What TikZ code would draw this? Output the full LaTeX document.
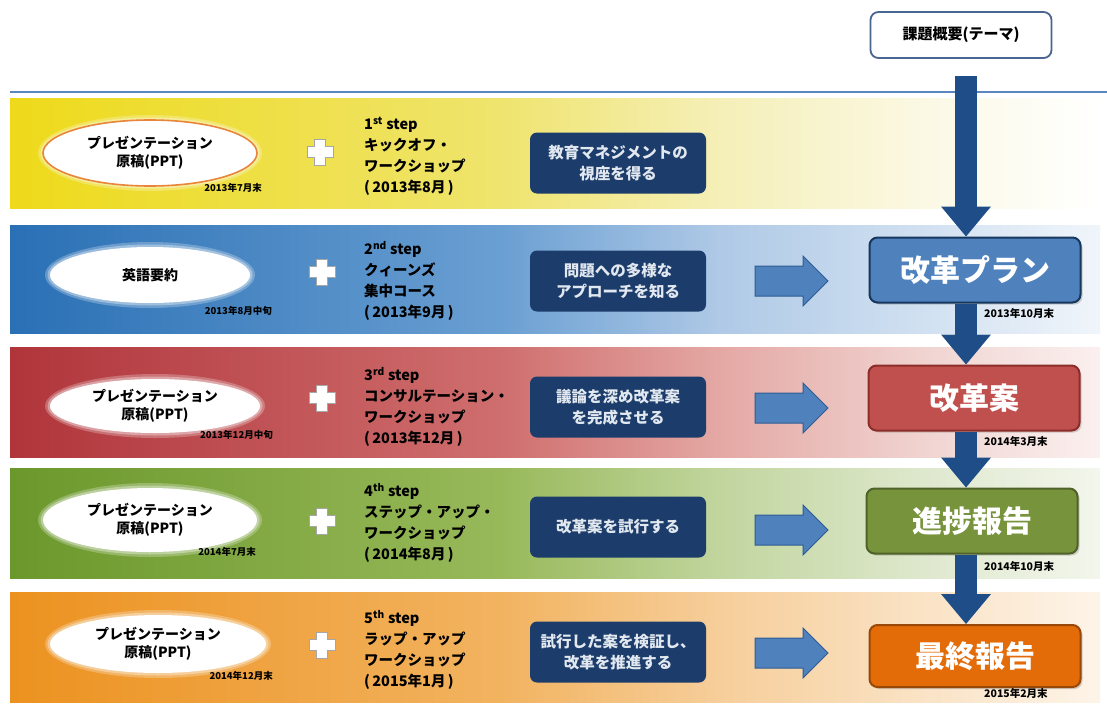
\documentclass[tikz,border=0pt]{standalone}
\usepackage{fontspec}
\setmainfont{Noto Sans CJK JP}
\usetikzlibrary{shapes.geometric,arrows.meta,shadows}
\definecolor{navy}{HTML}{1C3D6B}
\definecolor{navytext}{HTML}{E2E8F0}
\definecolor{varr}{HTML}{1F4D87}
\definecolor{harrfill}{HTML}{4F81BD}
\definecolor{harrdraw}{HTML}{2F5C92}
\definecolor{themeline}{HTML}{4A6590}
\definecolor{hline}{HTML}{5B86C0}
\definecolor{rbBlue}{HTML}{4F81BD}\definecolor{rbBlueD}{HTML}{17375E}
\definecolor{rbRed}{HTML}{C0504D}\definecolor{rbRedD}{HTML}{8C2D2A}
\definecolor{rbGreen}{HTML}{77933C}\definecolor{rbGreenD}{HTML}{4F6228}
\definecolor{rbOrange}{HTML}{E36C09}\definecolor{rbOrangeD}{HTML}{984807}
\definecolor{ellOrange}{HTML}{E8853A}
% row shadings (path spans 25bp..75bp of the shading)
\definecolor{yA}{HTML}{EEDA1A}\definecolor{yB}{HTML}{EFE46E}\definecolor{yC}{HTML}{F5EFB8}\definecolor{yD}{HTML}{FBF9E6}\definecolor{yE}{HTML}{FFFFFF}
\definecolor{bA}{HTML}{2A70B5}\definecolor{bB}{HTML}{6A9FD2}\definecolor{bC}{HTML}{AFC9E6}\definecolor{bD}{HTML}{D3E2F2}\definecolor{bE}{HTML}{F0F5FA}
\definecolor{rA}{HTML}{B0353B}\definecolor{rB}{HTML}{CF6E6E}\definecolor{rC}{HTML}{E4A8A4}\definecolor{rD}{HTML}{F1D6D3}\definecolor{rE}{HTML}{FAF0EF}
\definecolor{gA}{HTML}{6B982C}\definecolor{gB}{HTML}{98B95A}\definecolor{gC}{HTML}{C1D59E}\definecolor{gD}{HTML}{E0E9D0}\definecolor{gE}{HTML}{F3F6EC}
\definecolor{oA}{HTML}{EC9220}\definecolor{oB}{HTML}{F2B360}\definecolor{oC}{HTML}{F6CE9A}\definecolor{oD}{HTML}{FAE4C8}\definecolor{oE}{HTML}{FDF4E8}
\pgfdeclarehorizontalshading{rowY}{100bp}{color(0bp)=(yA); color(25bp)=(yA); color(47.5bp)=(yB); color(57.5bp)=(yC); color(67.5bp)=(yD); color(75bp)=(yE); color(100bp)=(yE)}
\pgfdeclarehorizontalshading{rowB}{100bp}{color(0bp)=(bA); color(25bp)=(bA); color(47.5bp)=(bB); color(57.5bp)=(bC); color(67.5bp)=(bD); color(75bp)=(bE); color(100bp)=(bE)}
\pgfdeclarehorizontalshading{rowR}{100bp}{color(0bp)=(rA); color(25bp)=(rA); color(47.5bp)=(rB); color(57.5bp)=(rC); color(67.5bp)=(rD); color(75bp)=(rE); color(100bp)=(rE)}
\pgfdeclarehorizontalshading{rowG}{100bp}{color(0bp)=(gA); color(25bp)=(gA); color(47.5bp)=(gB); color(57.5bp)=(gC); color(67.5bp)=(gD); color(75bp)=(gE); color(100bp)=(gE)}
\pgfdeclarehorizontalshading{rowO}{100bp}{color(0bp)=(oA); color(25bp)=(oA); color(47.5bp)=(oB); color(57.5bp)=(oC); color(67.5bp)=(oD); color(75bp)=(oE); color(100bp)=(oE)}
\begin{document}
\begin{tikzpicture}[x=1pt,y=-1pt,
  topbox/.style={draw=themeline,line width=1.8pt,fill=white,rounded corners=8pt,
    minimum width=181pt,minimum height=46pt,inner sep=0pt,
    font=\fontsize{15}{18}\selectfont\bfseries},
  ell/.style={ellipse,fill=white,inner sep=0pt,align=center,
    font=\fontsize{14}{18}\selectfont\bfseries},
  ldate/.style={anchor=east,inner sep=0pt,font=\fontsize{9.5}{11}\selectfont\bfseries},
  rdate/.style={anchor=west,inner sep=0pt,font=\fontsize{10.5}{12}\selectfont\bfseries},
  steptext/.style={anchor=west,align=left,inner sep=0pt,
    font=\fontsize{14.5}{21}\selectfont\bfseries},
  navybox/.style={fill=navy,rounded corners=7pt,minimum width=176pt,minimum height=61pt,
    inner sep=0pt,align=center,text=navytext,font=\fontsize{15.5}{21}\selectfont\bfseries},
  resbox/.style={rounded corners=8pt,line width=2pt,minimum width=211pt,minimum height=65pt,
    inner sep=0pt,text=white,font=\fontsize{30}{34}\selectfont\bfseries,
    drop shadow={opacity=0.35,shadow xshift=2pt,shadow yshift=-2pt}},
  varrow/.style={draw=varr,line width=22pt,-{Triangle[width=50pt,length=30pt,line width=0pt]}},
  harrow/.style={fill=harrfill,draw=harrdraw,line width=1pt,line join=miter},
  plus/.style={fill=white,draw=black!35,line width=0.8pt},
  pics/harr/.style={code={\path[harrow] (0,-15) -- (48,-15) -- (48,-25) -- (73,0) -- (48,25) -- (48,15) -- (0,15) -- cycle;}},
  pics/plus/.style={code={\path[plus] (-5.5,-13) -- (5.5,-13) -- (5.5,-5.5) -- (13,-5.5) -- (13,5.5) -- (5.5,5.5) -- (5.5,13) -- (-5.5,13) -- (-5.5,5.5) -- (-13,5.5) -- (-13,-5.5) -- (-5.5,-5.5) -- cycle;}}
]
\useasboundingbox (0,0) rectangle (1107,704);
\fill[white] (0,0) rectangle (1107,704);

% theme box and line
\node[topbox] (theme) at (961,35) {課題概要(テーマ)};
\draw[hline,line width=2pt] (10,92) -- (1107,92);

% bands
\shade[shading=rowY] (10,98) rectangle (1100,208);
\shade[shading=rowB] (10,225) rectangle (1100,333);
\shade[shading=rowR] (10,347) rectangle (1100,457);
\shade[shading=rowG] (10,468) rectangle (1100,578);
\shade[shading=rowO] (10,592) rectangle (1100,702);

% ellipses with soft glow
\foreach \cx/\cy/\rx/\ry in {150/153/107/33,150/275/100/28,155/406/105/27,150/520/107/32,158/644/108/29}{
  \fill[white,opacity=0.25] (\cx,\cy) ellipse [x radius=\rx+5, y radius=\ry+5];
  \fill[white,opacity=0.35] (\cx,\cy) ellipse [x radius=\rx+2.5, y radius=\ry+2.5];
}
\node[ell,draw=ellOrange,line width=1.6pt,minimum width=214pt,minimum height=66pt] (e1) at (150,153) {プレゼンテーション\\原稿(PPT)};
\node[ell,minimum width=200pt,minimum height=56pt] (e2) at (150,275) {英語要約};
\node[ell,minimum width=210pt,minimum height=54pt] (e3) at (155,406) {プレゼンテーション\\原稿(PPT)};
\node[ell,minimum width=214pt,minimum height=64pt] (e4) at (150,520) {プレゼンテーション\\原稿(PPT)};
\node[ell,minimum width=216pt,minimum height=58pt] (e5) at (158,644) {プレゼンテーション\\原稿(PPT)};

% left dates
\node[ldate] (d1) at (262,188) {2013年7月末};
\node[ldate] (d2) at (272,311) {2013年8月中旬};
\node[ldate] (d3) at (273,435) {2013年12月中旬};
\node[ldate] (d4) at (256,552) {2014年7月末};
\node[ldate] (d5) at (273,676) {2014年12月末};

% plus signs
\pic at (320,152) {plus};
\pic at (322,272) {plus};
\pic at (322,398) {plus};
\pic at (322,521) {plus};
\pic at (322,645) {plus};

% step texts
\node[steptext] (s1) at (364,156) {1\textsuperscript{st} step\\キックオフ・\\ワークショップ\\(\,2013年8月\,)};
\node[steptext] (s2) at (364,281) {2\textsuperscript{nd} step\\クィーンズ\\集中コース\\(\,2013年9月\,)};
\node[steptext] (s3) at (364,407) {3\textsuperscript{rd} step\\コンサルテーション・\\ワークショップ\\(\,2013年12月\,)};
\node[steptext] (s4) at (364,523) {4\textsuperscript{th} step\\ステップ・アップ・\\ワークショップ\\(\,2014年8月\,)};
\node[steptext] (s5) at (364,650) {5\textsuperscript{th} step\\ラップ・アップ\\ワークショップ\\(\,2015年1月\,)};

% navy boxes
\node[navybox] (n1) at (618,163) {教育マネジメントの\\視座を得る};
\node[navybox] (n2) at (618,281) {問題への多様な\\アプローチを知る};
\node[navybox] (n3) at (618,407) {議論を深め改革案\\を完成させる};
\node[navybox] (n4) at (618,527) {改革案を試行する};
\node[navybox] (n5) at (618,652) {試行した案を検証し、\\改革を推進する};

% horizontal block arrows
\pic at (755,281) {harr};
\pic at (755,408) {harr};
\pic at (755,530) {harr};
\pic at (755,653) {harr};

% result boxes
\node[resbox,fill=rbBlue,draw=rbBlueD] (r2) at (975,270) {改革プラン};
\node[resbox,fill=rbRed,draw=rbRedD] (r3) at (974,398) {改革案};
\node[resbox,fill=rbGreen,draw=rbGreenD] (r4) at (972,521) {進捗報告};
\node[resbox,fill=rbOrange,draw=rbOrangeD,minimum height=62pt] (r5) at (975,656) {最終報告};

% vertical arrows
\coordinate (a0) at (966,76);
\draw[varrow] (a0) -- (a0 |- r2.north);
\draw[varrow] (a0 |- r2.south) -- (a0 |- r3.north);
\draw[varrow] (a0 |- r3.south) -- (a0 |- r4.north);
\draw[varrow] (a0 |- r4.south) -- (a0 |- r5.north);

% right dates
\node[rdate] (rd2) at (984,313) {2013年10月末};
\node[rdate] (rd3) at (984,441) {2014年3月末};
\node[rdate] (rd4) at (984,566) {2014年10月末};
\node[rdate] (rd5) at (984,693) {2015年2月末};
\end{tikzpicture}
\end{document}
